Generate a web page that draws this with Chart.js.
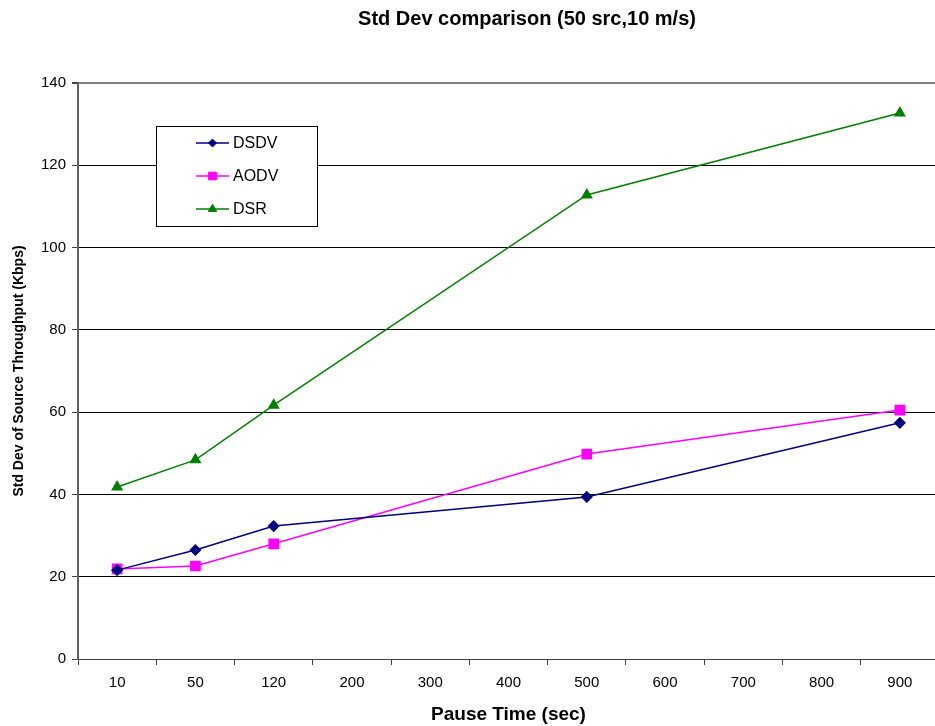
<!DOCTYPE html>
<html>
<head>
<meta charset="utf-8">
<script src="https://cdn.jsdelivr.net/npm/chart.js@4/dist/chart.umd.min.js"></script>
<style>
html,body{margin:0;padding:0;background:#fff;overflow:hidden;}
#wrap{width:935px;height:726px;position:relative;overflow:hidden;}
</style>
</head>
<body>
<div id="wrap"><canvas id="c" width="947" height="726"></canvas></div>
<script>
const categories = ['10','50','120','200','300','400','500','600','700','800','900'];
const dsdv = [21.6, 26.5, 32.3, null, null, null, 39.4, null, null, null, 57.4];
const aodv = [21.9, 22.6, 28.0, null, null, null, 49.8, null, null, null, 60.5];
const dsr  = [41.8, 48.4, 61.7, null, null, null, 112.8, null, null, null, 132.7];
const yTicks = [0, 20, 40, 60, 80, 100, 120, 140];
const seriesNames = ['DSDV', 'AODV', 'DSR'];
const titleText = 'Std Dev comparison (50 src,10 m/s)';

const FONT = '"Liberation Sans", Arial, sans-serif';

const overlay = {
  id: 'overlay',
  afterDraw(chart) {
    const ctx = chart.ctx;
    const ds = chart.data.datasets;
    ctx.save();
    ctx.fillStyle = '#000';
    ctx.font = 'bold 20px ' + FONT;
    ctx.textAlign = 'center';
    ctx.textBaseline = 'middle';
    ctx.fillText(titleText, 527, 19);
    const bx = 156.5, by = 126.5, bw = 161, bh = 100;
    ctx.fillStyle = '#fff';
    ctx.fillRect(bx, by, bw, bh);
    ctx.strokeStyle = '#000';
    ctx.lineWidth = 1;
    ctx.strokeRect(bx, by, bw, bh);
    ds.forEach((d, i) => {
      const y = 143 + i * 33;
      ctx.strokeStyle = d.borderColor;
      ctx.lineWidth = 1.5;
      ctx.beginPath(); ctx.moveTo(196, y); ctx.lineTo(229, y); ctx.stroke();
      ctx.fillStyle = d.pointBackgroundColor;
      ctx.strokeStyle = d.pointBorderColor;
      ctx.lineWidth = 1;
      Chart.helpers.drawPoint(ctx, {pointStyle: d.pointStyle, radius: d.legendRadius, borderWidth: 1, rotation: 0}, 212.5, y);
      ctx.fillStyle = '#000';
      ctx.font = '16px ' + FONT;
      ctx.textAlign = 'left';
      ctx.textBaseline = 'middle';
      ctx.fillText(seriesNames[i], 233, y + 1);
    });
    ctx.restore();
  }
};

new Chart(document.getElementById('c'), {
  type: 'line',
  data: {
    labels: categories,
    datasets: [
      {label: seriesNames[0], data: dsdv, borderColor: '#000080', backgroundColor: '#000080', pointBackgroundColor: '#000080', pointBorderColor: '#000080', pointStyle: 'rectRot', pointRadius: 5, legendRadius: 4, borderWidth: 1.5, spanGaps: true, tension: 0},
      {label: seriesNames[1], data: aodv, borderColor: '#FF00FF', backgroundColor: '#FF00FF', pointBackgroundColor: '#FF00FF', pointBorderColor: '#FF00FF', pointStyle: 'rect', pointRadius: 6.5, legendRadius: 5.5, borderWidth: 1.5, spanGaps: true, tension: 0},
      {label: seriesNames[2], data: dsr, borderColor: '#008000', backgroundColor: '#008000', pointBackgroundColor: '#008000', pointBorderColor: '#008000', pointStyle: 'triangle', pointRadius: 5.5, legendRadius: 4.8, borderWidth: 1.5, spanGaps: true, tension: 0}
    ]
  },
  options: {
    responsive: false,
    animation: false,
    devicePixelRatio: 1,
    layout: {padding: {top: 83, right: 0, left: 0, bottom: 0}},
    plugins: {legend: {display: false}, title: {display: false}, tooltip: {enabled: false}},
    scales: {
      x: {
        type: 'category',
        offset: true,
        grid: {offset: true, drawOnChartArea: false, drawTicks: true, tickLength: 6, color: '#404040'},
        border: {color: '#404040', width: 1},
        ticks: {color: '#000', font: {family: FONT, size: 15}, padding: 9, maxRotation: 0, autoSkip: false},
        title: {display: true, text: 'Pause Time (sec)', color: '#000', font: {family: FONT, size: 19, weight: 'bold'}, padding: {top: 0, bottom: 0}},
        afterFit(scale) { scale.height = 67; }
      },
      y: {
        min: 0, max: 140,
        afterBuildTicks(scale) { scale.ticks = yTicks.map(v => ({value: v})); },
        grid: {
          color: ctx => (ctx.tick && ctx.tick.value === 140) ? '#808080' : '#000000',
          lineWidth: ctx => (ctx.tick && ctx.tick.value === 140) ? 2 : 1,
          tickColor: '#404040',
          tickLength: 6, drawTicks: true
        },
        border: {color: '#606060', width: 2},
        ticks: {color: '#000', font: {family: FONT, size: 15}, padding: 6},
        title: {display: true, text: 'Std Dev of Source Throughput (Kbps)', color: '#000', font: {family: FONT, size: 14, weight: 'bold'}, padding: {top: 11, bottom: 4}},
        afterFit(scale) { scale.width = 78; }
      }
    }
  },
  plugins: [overlay]
});
</script>
</body>
</html>
